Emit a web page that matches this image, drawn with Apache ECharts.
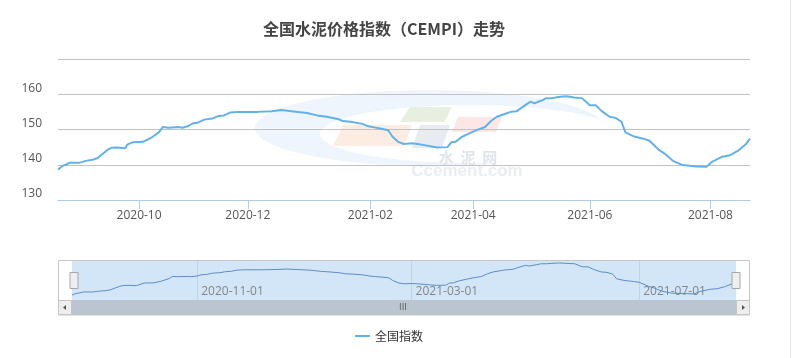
<!DOCTYPE html>
<html>
<head>
<meta charset="utf-8">
<script src="https://cdn.jsdelivr.net/npm/echarts@6/dist/echarts.min.js"></script>
<style>
  html, body { margin: 0; padding: 0; background: #ffffff; }
  #chart { width: 793px; height: 358px; }
</style>
</head>
<body>
<div id="chart"></div>
<script>
// ---- data ----
const titleText = '全国水泥价格指数（CEMPI）走势';
const seriesName = '全国指数';
const startDate = '2020-08-21';
const endDate = '2021-08-21';
// days without a published value (holidays)
const closedRanges = [['2020-10-01', '2020-10-06'], ['2021-02-11', '2021-02-17'], ['2021-05-01', '2021-05-02']];
const tickMonths = ['2020-10', '2020-12', '2021-02', '2021-04', '2021-06', '2021-08'];
const zoomLabels = ['2020-11-01', '2021-03-01', '2021-07-01'];
const yTickLabels = [130, 140, 150, 160];

const sampleDates = [
  '2020-08-21','2020-08-23','2020-08-25','2020-08-27','2020-09-01','2020-09-04','2020-09-08','2020-09-10',
  '2020-09-15','2020-09-17','2020-09-20','2020-09-21','2020-09-24','2020-09-25','2020-09-28','2020-10-09',
  '2020-10-13','2020-10-17','2020-10-19','2020-10-22','2020-10-27','2020-10-29','2020-11-01','2020-11-03',
  '2020-11-06','2020-11-09','2020-11-13','2020-11-16','2020-11-19','2020-11-22','2020-11-26','2020-12-06',
  '2020-12-13','2020-12-18','2020-12-23','2020-12-31','2021-01-05','2021-01-10','2021-01-16','2021-01-18',
  '2021-01-22','2021-01-28','2021-01-31','2021-02-03','2021-02-06','2021-02-10','2021-02-19','2021-02-22',
  '2021-02-25','2021-03-01','2021-03-04','2021-03-08','2021-03-11','2021-03-14','2021-03-19','2021-03-21',
  '2021-03-23','2021-03-26','2021-03-30','2021-04-03','2021-04-07','2021-04-10','2021-04-13','2021-04-18',
  '2021-04-20','2021-04-23','2021-04-26','2021-04-30','2021-05-04','2021-05-06','2021-05-08','2021-05-10',
  '2021-05-13','2021-05-16','2021-05-20','2021-05-22','2021-05-24','2021-05-28','2021-06-01','2021-06-04',
  '2021-06-07','2021-06-11','2021-06-14','2021-06-17','2021-06-19','2021-06-23','2021-06-28','2021-07-01',
  '2021-07-06','2021-07-09','2021-07-13','2021-07-18','2021-07-25','2021-07-30','2021-07-31','2021-08-02',
  '2021-08-07','2021-08-11','2021-08-15','2021-08-19','2021-08-21'
];
const indexValues = [
  138.6,139.6,140.0,140.6,140.6,141.1,141.5,141.9,
  144.2,144.8,144.9,144.7,144.7,145.7,146.4,146.5,
  147.6,149.2,150.7,150.5,150.7,150.5,151.0,151.7,
  152.0,152.8,153.1,153.8,154.0,154.8,155.0,155.0,
  155.2,155.5,155.2,154.7,154.0,153.6,152.9,152.4,
  152.2,151.6,150.9,150.6,150.3,149.8,148.1,146.5,
  145.9,146.1,145.9,145.5,145.2,144.9,145.0,146.4,
  146.5,147.8,148.9,149.9,150.7,152.4,153.6,154.6,
  155.0,155.2,156.4,157.9,157.4,157.9,158.3,158.9,
  158.9,159.2,159.4,159.3,159.1,158.9,156.9,156.9,
  155.2,153.6,153.3,152.2,149.2,148.1,147.4,146.9,
  144.2,143.1,141.1,139.9,139.5,139.4,139.4,140.9,
  142.3,142.7,144.0,145.9,147.4
];

// ---- build category list ----
function buildDates() {
  const out = [];
  let d = new Date(startDate + 'T00:00:00Z');
  const end = new Date(endDate + 'T00:00:00Z');
  while (d <= end) {
    const s = d.toISOString().slice(0, 10);
    if (!closedRanges.some(r => s >= r[0] && s <= r[1])) out.push(s);
    d = new Date(d.getTime() + 86400000);
  }
  return out;
}
const dates = buildDates();
const pairs = sampleDates.map((d, i) => [d, indexValues[i]]);

const isMainTick = (i) => i > 0 && dates[i].slice(0, 7) !== dates[i - 1].slice(0, 7) && tickMonths.includes(dates[i].slice(0, 7));
const isZoomTick = (i) => zoomLabels.includes(dates[i]);

const chart = echarts.init(document.getElementById('chart'), null, { renderer: 'canvas' });

const cjk = "'Noto Sans CJK SC', 'Noto Sans', sans-serif";
const lat = "'Open Sans', 'DejaVu Sans', sans-serif";

const option = {
  animation: false,
  backgroundColor: '#ffffff',
  title: {
    text: titleText,
    left: 379,
    top: 16,
    textAlign: 'center',
    textStyle: { fontFamily: cjk, fontSize: 16, fontWeight: 'bold', color: '#444444' }
  },
  legend: {
    data: [seriesName],
    left: 350,
    top: 325,
    icon: 'rect',
    itemWidth: 15,
    itemHeight: 2,
    textStyle: { fontFamily: cjk, fontSize: 12, color: '#333333' }
  },
  grid: [
    { left: 58, right: 43, top: 59, bottom: 158 },
    { left: 72, width: 664, top: 261, height: 39, show: true, backgroundColor: '#d3e6f8', borderWidth: 0 }
  ],
  xAxis: [
    {
      type: 'category', gridIndex: 0, data: dates, boundaryGap: false,
      axisLine: { lineStyle: { color: '#b3cbe0', width: 1 } },
      axisTick: { interval: isMainTick, length: 9, lineStyle: { color: '#b3cbe0' } },
      axisLabel: {
        interval: isMainTick, margin: 10, color: '#555555', fontSize: 12, fontFamily: lat,
        formatter: (v) => v.slice(0, 7)
      },
      splitLine: { show: false }
    },
    {
      type: 'category', gridIndex: 1, data: dates, boundaryGap: false,
      axisLine: { show: false }, axisTick: { show: false },
      axisLabel: {
        inside: true, interval: isZoomTick, margin: 2, align: 'left', padding: [0, 0, 0, 4],
        color: '#858585', fontSize: 12, fontFamily: lat
      },
      splitLine: { show: true, interval: isZoomTick, lineStyle: { color: '#bdd4ea', width: 1 } }
    }
  ],
  yAxis: [
    {
      type: 'value', gridIndex: 0, min: 130, max: 170, interval: 10,
      axisLine: { show: false }, axisTick: { show: false },
      axisLabel: {
        margin: 16, color: '#555555', fontSize: 12, fontFamily: lat, verticalAlign: 'bottom',
        formatter: (v) => (yTickLabels.includes(v) ? String(v) : '')
      },
      splitLine: { lineStyle: { color: '#c2c2c2', width: 1 } }
    },
    {
      type: 'value', gridIndex: 1, min: 135.4, max: 160.7, show: false,
      splitLine: { show: false }
    }
  ],
  dataZoom: [{
    type: 'slider', xAxisIndex: 0, start: 0, end: 100,
    left: 72, right: 57, top: 261, height: 39,
    showDataShadow: false, showDetail: false, brushSelect: false, moveHandleSize: 0,
    backgroundColor: 'rgba(0,0,0,0)', borderColor: 'rgba(0,0,0,0)', fillerColor: 'rgba(0,0,0,0)',
    handleIcon: 'path://M0,0H8V16H0Z', handleSize: 16,
    handleStyle: { color: '#eeeeee', borderColor: '#a8a8a8', borderWidth: 1 },
    emphasis: { handleStyle: { color: '#eeeeee', borderColor: '#a8a8a8', borderWidth: 1 } }
  }],
  graphic: [
    // watermark
    { type: 'ellipse', z: -10, silent: true, shape: { cx: 430, cy: 128, rx: 175, ry: 38 }, style: { fill: '#eef5fc' } },
    { type: 'ellipse', z: -9, silent: true, shape: { cx: 470, cy: 134, rx: 150, ry: 29 }, style: { fill: '#ffffff' } },
    { type: 'polygon', z: -8, silent: true, shape: { points: [[410, 107], [452, 107], [444, 122], [400, 122]] }, style: { fill: '#e7efe0' } },
    { type: 'polygon', z: -8, silent: true, shape: { points: [[343, 125], [412, 125], [404, 146], [333, 146]] }, style: { fill: '#fcece2' } },
    { type: 'polygon', z: -8, silent: true, shape: { points: [[420, 125], [450, 125], [442, 148], [412, 148]] }, style: { fill: '#e8ecf2' } },
    { type: 'polygon', z: -8, silent: true, shape: { points: [[458, 117], [502, 117], [496, 132], [452, 132]] }, style: { fill: '#fde6e6' } },
    { type: 'text', z: -8, silent: true, style: { text: '水  泥  网', x: 468, y: 157, align: 'center', verticalAlign: 'middle', font: 'bold 15px "Noto Sans CJK SC"', fill: '#e0e5ea' } },
    { type: 'text', z: -8, silent: true, style: { text: 'Ccement.com', x: 467, y: 171, align: 'center', verticalAlign: 'middle', font: 'bold 17px "Liberation Sans"', fill: '#eaedf1' } },
    // page border on the right
    { type: 'line', z: 10, silent: true, shape: { x1: 790.5, y1: 0, x2: 790.5, y2: 358 }, style: { stroke: '#e6e6e6', lineWidth: 1 } },
    // zoom box and scrollbar
    { type: 'rect', z: 10, silent: true, shape: { x: 72, y: 300, width: 664, height: 15 }, style: { fill: '#bac5cf' } },
    { type: 'rect', z: 11, silent: true, shape: { x: 58.5, y: 300.5, width: 13, height: 14 }, style: { fill: '#eeeeee', stroke: '#c4c4c4', lineWidth: 1 } },
    { type: 'rect', z: 11, silent: true, shape: { x: 736.5, y: 300.5, width: 13, height: 14 }, style: { fill: '#eeeeee', stroke: '#c4c4c4', lineWidth: 1 } },
    { type: 'polygon', z: 12, silent: true, shape: { points: [[63, 307.5], [66, 305], [66, 310]] }, style: { fill: '#555555' } },
    { type: 'polygon', z: 12, silent: true, shape: { points: [[745, 307.5], [742, 305], [742, 310]] }, style: { fill: '#555555' } },
    { type: 'text', z: 12, silent: true, style: { text: 'III', x: 403, y: 308, align: 'center', verticalAlign: 'middle', font: '9px "DejaVu Sans"', fill: '#666666' } },
    { type: 'rect', z: 12, silent: true, shape: { x: 58.5, y: 260.5, width: 691, height: 54.5 }, style: { fill: 'none', stroke: '#c6c6c6', lineWidth: 1 } }
  ],
  series: [
    {
      name: seriesName, type: 'line', xAxisIndex: 0, yAxisIndex: 0, data: pairs,
      showSymbol: false, symbol: 'none', smooth: false, z: 3,
      lineStyle: { color: '#62b2ea', width: 2 }, itemStyle: { color: '#62b2ea' }
    },
    {
      name: seriesName + '缩略', type: 'line', xAxisIndex: 1, yAxisIndex: 1, data: pairs,
      showSymbol: false, symbol: 'none', silent: true,
      lineStyle: { color: '#5b8ec4', width: 1 }, itemStyle: { color: '#5b8ec4' }
    }
  ]
};
chart.setOption(option);
</script>
</body>
</html>
